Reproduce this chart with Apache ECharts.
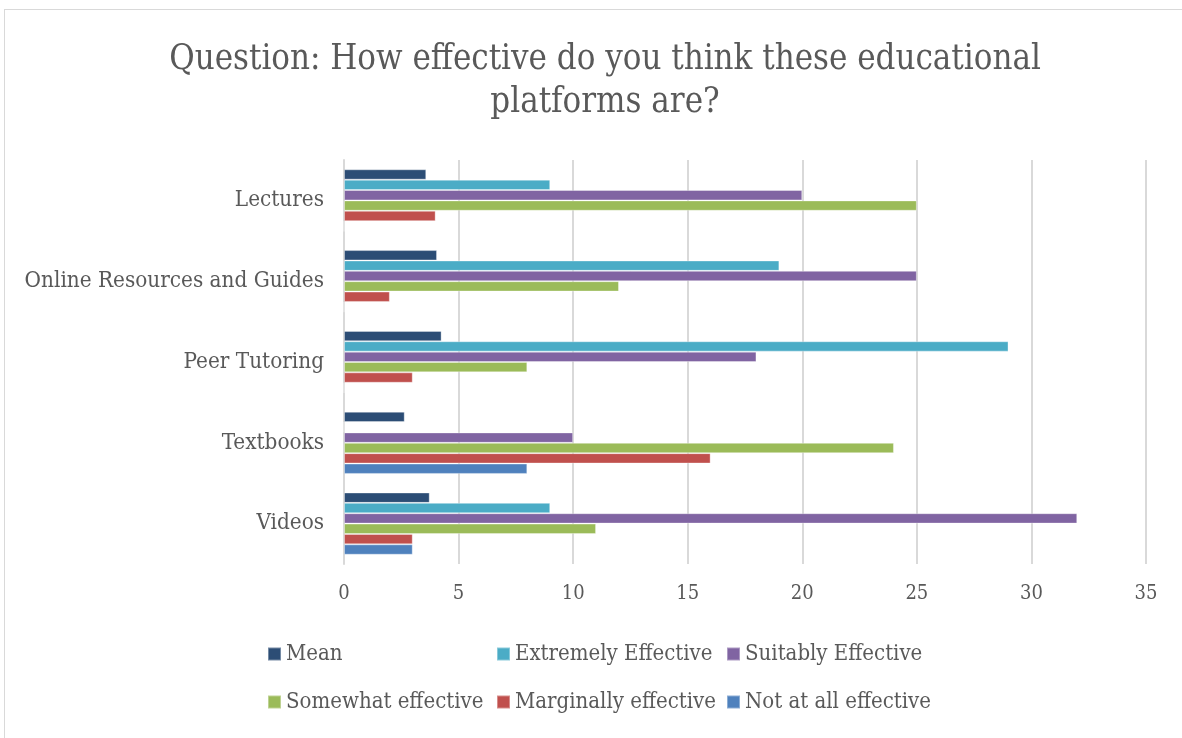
<!DOCTYPE html>
<html>
<head>
<meta charset="utf-8">
<script src="https://cdn.jsdelivr.net/npm/echarts@6/dist/echarts.min.js"></script>
<style>
html,body{margin:0;padding:0;background:#fff;}
#frame{position:absolute;left:4px;top:9px;width:1190px;height:740px;border:1px solid #d9d9d9;box-sizing:border-box;}
#chart{position:absolute;left:0;top:0;width:1182px;height:738px;}
</style>
</head>
<body>
<div id="frame"></div>
<div id="chart"></div>
<script>
const categories = ["Lectures", "Online Resources and Guides", "Peer Tutoring", "Textbooks", "Videos"];
const seriesNames = ["Mean", "Extremely Effective", "Suitably Effective", "Somewhat effective", "Marginally effective", "Not at all effective"];
const meanVals = [3.59, 4.06, 4.26, 2.65, 3.74];
const extremelyVals = [9, 19, 29, 0, 9];
const suitablyVals = [20, 25, 18, 10, 32];
const somewhatVals = [25, 12, 8, 24, 11];
const marginallyVals = [4, 2, 3, 16, 3];
const notAtAllVals = [0, 0, 0, 8, 3];
const xTicks = [0, 5, 10, 15, 20, 25, 30, 35];
const colors = ["#2C4D75", "#4BACC6", "#8064A2", "#9BBB59", "#C0504D", "#4F81BD"];
const allVals = [meanVals, extremelyVals, suitablyVals, somewhatVals, marginallyVals, notAtAllVals];

const FONT = "DejaVu Serif Condensed";
const TXT = "#595959";

const chart = echarts.init(document.getElementById('chart'));
const legendBase = (names, left) => ({
  orient: 'vertical', left: left, top: 638, itemGap: 26, itemWidth: 13, itemHeight: 13,
  icon: 'rect', data: names,
  textStyle: {fontFamily: FONT, fontSize: 22, color: TXT, padding: [0,0,0,0]}
});
chart.setOption({
  color: colors,
  title: {
    text: "Question: How effective do you think these educational\nplatforms are?",
    left: 600, top: 34, textAlign: 'center',
    textStyle: {fontFamily: FONT, fontSize: 34.5, fontWeight: 'normal', color: TXT, lineHeight: 43}
  },
  legend: [
    legendBase([seriesNames[0], seriesNames[3]], 262),
    legendBase([seriesNames[1], seriesNames[4]], 491),
    legendBase([seriesNames[2], seriesNames[5]], 721)
  ],
  grid: {left: 344, right: 36, top: 160, bottom: 174, containLabel: false},
  xAxis: {
    type: 'value', min: 0, max: 35, interval: 5,
    axisLine: {show: false}, axisTick: {show: false},
    splitLine: {lineStyle: {color: '#d9d9d9', width: 2}},
    axisLabel: {fontFamily: FONT, fontSize: 20, color: TXT, margin: 20,
      formatter: v => xTicks.includes(v) ? String(v) : ''}
  },
  yAxis: {
    type: 'category', data: categories, inverse: true,
    axisLine: {show: true, lineStyle: {color: '#d9d9d9', width: 2}},
    axisTick: {show: false},
    axisLabel: {fontFamily: FONT, fontSize: 22.3, color: TXT, margin: 20}
  },
  series: seriesNames.map((n, i) => ({
    name: n, type: 'bar', data: allVals[i],
    barGap: '0%', barCategoryGap: '23%',
    itemStyle: {borderColor: 'rgba(255,255,255,0.35)', borderWidth: 1},
    emphasis: {disabled: true}
  }))
});
</script>
</body>
</html>
